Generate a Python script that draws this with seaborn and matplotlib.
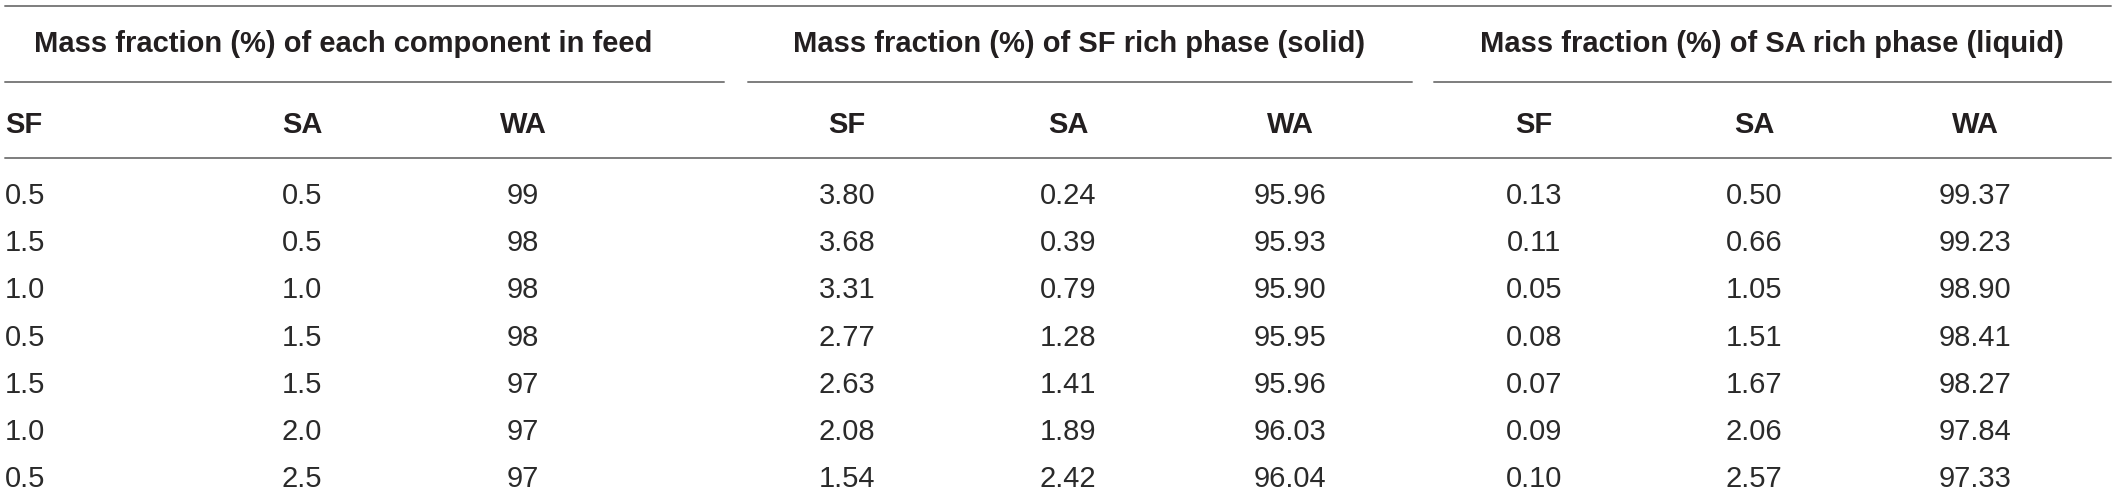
#!/usr/bin/env python3
import matplotlib
matplotlib.use("Agg")
import matplotlib.pyplot as plt
import seaborn as sns

# Table values
groups = [
    "Mass fraction (%) of each component in feed",
    "Mass fraction (%) of SF rich phase (solid)",
    "Mass fraction (%) of SA rich phase (liquid)",
]
components = ["SF", "SA", "WA"]

feed_sf = ["0.5", "1.5", "1.0", "0.5", "1.5", "1.0", "0.5"]
feed_sa = ["0.5", "0.5", "1.0", "1.5", "1.5", "2.0", "2.5"]
feed_wa = ["99", "98", "98", "98", "97", "97", "97"]

solid_sf = ["3.80", "3.68", "3.31", "2.77", "2.63", "2.08", "1.54"]
solid_sa = ["0.24", "0.39", "0.79", "1.28", "1.41", "1.89", "2.42"]
solid_wa = ["95.96", "95.93", "95.90", "95.95", "95.96", "96.03", "96.04"]

liquid_sf = ["0.13", "0.11", "0.05", "0.08", "0.07", "0.09", "0.10"]
liquid_sa = ["0.50", "0.66", "1.05", "1.51", "1.67", "2.06", "2.57"]
liquid_wa = ["99.37", "99.23", "98.90", "98.41", "98.27", "97.84", "97.33"]


def main():
    sns.set_theme(style="white")
    plt.rcParams["font.family"] = ["Liberation Sans", "DejaVu Sans"]

    W, H = 2117, 494
    fig = plt.figure(figsize=(W / 100, H / 100), dpi=100)
    ax = fig.add_axes([0, 0, 1, 1])
    ax.set_xlim(0, W)
    ax.set_ylim(H, 0)
    ax.axis("off")

    columns = [feed_sf, feed_sa, feed_wa,
               solid_sf, solid_sa, solid_wa,
               liquid_sf, liquid_sa, liquid_wa]

    # layout (pixel units)
    col_x = [5, 302, 523, 847, 1068, 1290, 1534, 1754, 1975]
    col_ha = ["left"] + ["center"] * 8
    group_x = [343, 1079, 1772]
    group_lines = [(5, 724), (748, 1412), (1434, 2111)]
    line_color = "#7d7d7d"
    text_color = "#231f20"
    fs = 21

    # rules
    ax.plot([5, 2111], [6, 6], color=line_color, lw=1.4)
    for x0, x1 in group_lines:
        ax.plot([x0, x1], [82, 82], color=line_color, lw=1.4)
    ax.plot([5, 2111], [158, 158], color=line_color, lw=1.4)

    # group headers
    for gx, g in zip(group_x, groups):
        ax.text(gx, 52, g, ha="center", va="baseline", fontsize=fs,
                fontweight="bold", color=text_color)

    # column headers
    for j, (x, ha) in enumerate(zip(col_x, col_ha)):
        ax.text(x, 133, components[j % 3], ha=ha, va="baseline",
                fontsize=fs, fontweight="bold", color=text_color)

    # body
    row_base, row_step = 204, 47.2
    for x, ha, col in zip(col_x, col_ha, columns):
        for i, val in enumerate(col):
            ax.text(x, row_base + i * row_step, val, ha=ha, va="baseline",
                    fontsize=fs, color="#2a2a2a")

    fig.savefig("out.png", dpi=100, facecolor="white")


if __name__ == "__main__":
    main()
